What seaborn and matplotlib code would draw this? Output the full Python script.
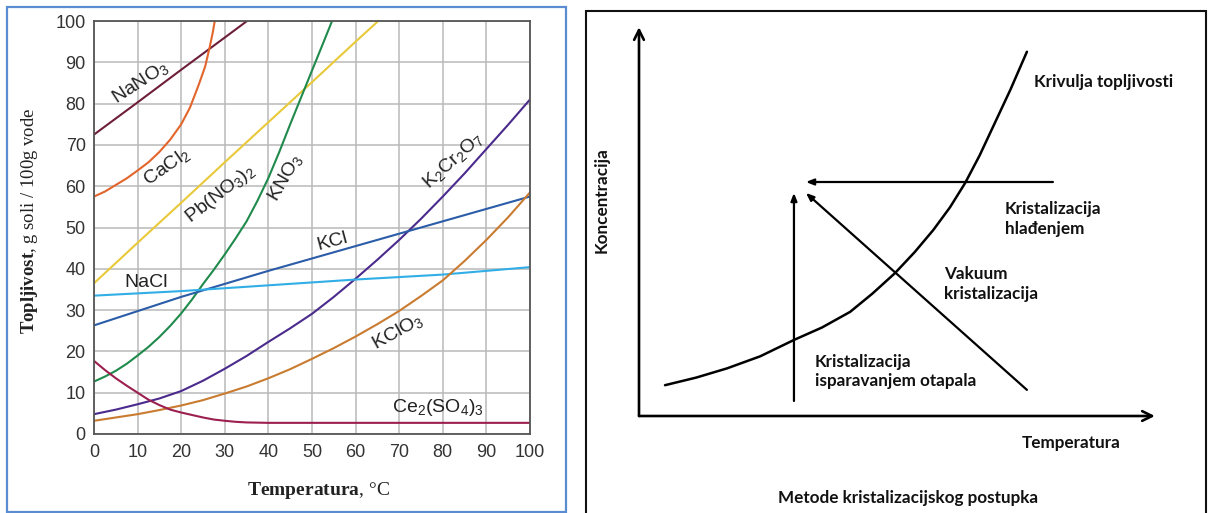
import numpy as np
import pandas as pd
import matplotlib
matplotlib.use("Agg")
import matplotlib.pyplot as plt
import seaborn as sns
from matplotlib.patches import Rectangle

# ---------------- data: solubility curves (g salt / 100 g water) ----------------
nano3_T = [0, 10, 20, 30, 35.1]
nano3_S = [72.5, 80.3, 88.2, 96.0, 100]
cacl2_T = [0, 2.5, 5, 7.5, 10, 12.5, 15, 17.5, 20, 22, 24, 25.5, 26.5, 27.2, 27.7]
cacl2_S = [57.5, 58.7, 60.3, 61.9, 63.8, 65.8, 68.3, 71.3, 75.0, 79.0, 84.5, 89.0, 93.5, 97.0, 100]
pbno3_T = [0, 10, 20, 30, 40, 50, 60, 65.2]
pbno3_S = [36.5, 46.3, 56.0, 65.8, 75.5, 85.2, 95.0, 100]
kno3_T = [0, 2.5, 5, 7.5, 10, 12.5, 15, 17.5, 20, 22.5, 25, 27.5, 30, 32.5, 35, 37.5,
          40, 42.5, 45, 47.5, 50, 52.5, 54.6]
kno3_S = [12.7, 13.9, 15.3, 17.0, 19.0, 21.1, 23.5, 26.2, 29.2, 32.6, 36.3, 39.8, 43.5, 47.4,
          51.5, 56.5, 62.0, 68.3, 75.0, 81.5, 88.0, 94.5, 100]
k2cr2o7_T = [0, 5, 10, 15, 20, 25, 30, 35, 40, 45, 50, 55, 60, 65, 70, 75, 80, 85, 90, 95, 100]
k2cr2o7_S = [4.8, 5.9, 7.2, 8.6, 10.4, 12.9, 15.8, 18.9, 22.3, 25.6, 29.1, 33.2, 37.6, 42.2,
             47.0, 52.1, 57.5, 63.1, 69.0, 74.9, 81.0]
kcl_T = [0, 20, 40, 60, 80, 100]
kcl_S = [26.3, 33.2, 39.5, 45.5, 51.5, 57.5]
nacl_T = [0, 20, 40, 60, 80, 100]
nacl_S = [33.5, 34.6, 36.0, 37.4, 38.6, 40.4]
kclo3_T = [0, 5, 10, 15, 20, 25, 30, 35, 40, 45, 50, 55, 60, 65, 70, 75, 80, 85, 90, 95, 100]
kclo3_S = [3.2, 4.0, 4.8, 5.8, 6.9, 8.2, 9.8, 11.5, 13.5, 15.7, 18.2, 20.8, 23.6, 26.6, 29.8,
           33.4, 37.2, 41.9, 47.0, 52.5, 58.5]
ce_T = [0, 2.5, 5, 7.5, 10, 12.5, 15, 17.5, 20, 22.5, 25, 27.5, 30, 32.5, 35, 40, 100]
ce_S = [17.7, 15.5, 13.5, 11.7, 10.0, 8.3, 7.0, 5.9, 5.2, 4.6, 4.0, 3.5, 3.2, 2.95, 2.8, 2.7, 2.7]

salts = ["NaNO3", "CaCl2", "Pb(NO3)2", "KNO3", "K2Cr2O7", "KCl", "NaCl", "KClO3", "Ce2(SO4)3"]
salt_T = [nano3_T, cacl2_T, pbno3_T, kno3_T, k2cr2o7_T, kcl_T, nacl_T, kclo3_T, ce_T]
salt_S = [nano3_S, cacl2_S, pbno3_S, kno3_S, k2cr2o7_S, kcl_S, nacl_S, kclo3_S, ce_S]
salt_colors = ["#6e1e3a", "#e2652c", "#e8c93a", "#1f8a4c", "#4a2a8c",
               "#2b5ca8", "#32aee6", "#c97b30", "#9c1f4f"]
salt_labels = ["NaNO$_3$", "CaCl$_2$", "Pb(NO$_3$)$_2$", "KNO$_3$", "K$_2$Cr$_2$O$_7$",
               "KCl", "NaCl", "KClO$_3$", "Ce$_2$(SO$_4$)$_3$"]
label_T = [10.6, 16.7, 28.9, 43.8, 82.3, 54.6, 11.9, 69.7, 78.9]
label_S = [85.2, 64.6, 58.1, 62.0, 66.3, 46.5, 36.8, 24.7, 6.3]
label_rot = [33, 35, 38, 60, 42, 15, 0, 29, 0]

x_ticks = list(range(0, 101, 10))
y_ticks = list(range(0, 101, 10))

# ---------------- data: schematic (arbitrary units 0-100) ----------------
curve_T = [5.0, 11.0, 16.9, 23.3, 29.8, 35.2, 40.6, 44.9, 49.2, 53.0, 56.6, 59.8, 62.7,
           65.5, 68.1, 71.4, 74.6]
curve_C = [7.9, 9.85, 12.2, 15.3, 19.5, 22.7, 26.7, 31.4, 36.6, 42.0, 47.7, 53.5, 59.7,
           66.8, 74.2, 83.6, 93.4]
cool_arrow = [(79.6, 60.0), (32.1, 60.0)]
evap_arrow = [(29.8, 3.85), (29.8, 57.2)]
vac_arrow = [(74.6, 6.7), (32.1, 57.2)]

# ---------------- style ----------------
sns.set_style("white")
plt.rcParams["font.family"] = ["Liberation Sans", "DejaVu Sans"]
plt.rcParams["mathtext.fontset"] = "custom"
plt.rcParams["mathtext.rm"] = "Liberation Sans"
plt.rcParams["mathtext.it"] = "Liberation Sans:italic"
plt.rcParams["mathtext.bf"] = "Liberation Serif:bold"

W, H = 1210, 513
fig = plt.figure(figsize=(W / 100, H / 100), dpi=100)

def fx(px):
    return px / W

def fy(py):
    return (H - py) / H

# panel borders
fig.add_artist(Rectangle((fx(7), fy(512)), fx(566) - fx(7), fy(7) - fy(512),
                         transform=fig.transFigure, fill=False, ec="#5b8bd0", lw=1.6))
fig.add_artist(Rectangle((fx(586), -0.05), fx(1206) - fx(586), fy(11) + 0.05,
                         transform=fig.transFigure, fill=False, ec="#111111", lw=1.5))

# ---------------- left: solubility chart ----------------
ax = fig.add_axes([fx(94), fy(434), fx(530) - fx(94), fy(21) - fy(434)])
rows = []
for name, T, S in zip(salts, salt_T, salt_S):
    for t, s in zip(T, S):
        rows.append({"salt": name, "T": t, "S": s})
df = pd.DataFrame(rows)
sns.lineplot(data=df, x="T", y="S", hue="salt", hue_order=salts,
             palette=dict(zip(salts, salt_colors)), estimator=None, sort=False,
             legend=False, lw=1.5, ax=ax)
ax.set_xlim(0, 100)
ax.set_ylim(0, 100)
ax.set_xticks(x_ticks)
ax.set_yticks(y_ticks)
ax.grid(True, color="#b9b9b9", lw=1.1)
ax.set_axisbelow(True)
for sp in ax.spines.values():
    sp.set_color("#555555")
    sp.set_linewidth(1.3)
ax.tick_params(length=0, labelsize=13, colors="#333333")
ax.tick_params(axis="y", pad=6)
ax.tick_params(axis="x", pad=7)
ax.set_xlabel(r"$\mathbf{Temperatura}$, °C", family="Liberation Serif", fontsize=14,
              color="#222222", va="center")
ax.xaxis.set_label_coords(0.514, -0.136)
ax.set_ylabel(r"$\mathbf{Topljivost}$, g soli / 100g vode", family="Liberation Serif",
              fontsize=13.5, color="#222222", va="center")
ax.yaxis.set_label_coords(-0.147, 0.516)
for lab, t, s, r in zip(salt_labels, label_T, label_S, label_rot):
    ax.text(t, s, lab, rotation=r, rotation_mode="anchor", ha="center", va="center",
            fontsize=14, color="#222222")

# ---------------- right: schematic ----------------
ax2 = fig.add_axes([fx(639), fy(416), fx(1159) - fx(639), fy(26) - fy(416)])
ax2.set_xlim(0, 100)
ax2.set_ylim(0, 100)
ax2.axis("off")
sns.lineplot(x=curve_T, y=curve_C, sort=False, estimator=None, color="black", lw=1.8, ax=ax2)

axis_style = dict(arrowstyle="->,head_length=0.7,head_width=0.35", lw=1.9, color="black",
                  shrinkA=0, shrinkB=0)
ax2.annotate("", xy=(0, 99.7), xytext=(0, 0), arrowprops=axis_style, annotation_clip=False)
ax2.annotate("", xy=(99.2, 0), xytext=(0, 0), arrowprops=axis_style, annotation_clip=False)
small_style = dict(arrowstyle="-|>,head_length=0.45,head_width=0.18", lw=1.6, color="black",
                   shrinkA=0, shrinkB=0)
for arr in (cool_arrow, evap_arrow, vac_arrow):
    ax2.annotate("", xy=arr[1], xytext=arr[0], arrowprops=small_style, annotation_clip=False)

tfont = dict(family=["Lato", "DejaVu Sans"], fontsize=12.3, fontweight="bold", color="#111111",
             linespacing=1.3)
ax2.text(76.0, 85.6, "Krivulja topljivosti", ha="left", va="center", **tfont)
ax2.text(70.4, 50.5, "Kristalizacija\nhlađenjem", ha="left", va="center", **tfont)
ax2.text(58.7, 33.8, "Vakuum\nkristalizacija", ha="left", va="center", **tfont)
ax2.text(33.8, 11.4, "Kristalizacija\nisparavanjem otapala", ha="left", va="center", **tfont)
ax2.text(73.7, -6.9, "Temperatura", ha="left", va="center", clip_on=False, **tfont)
ax2.text(-7.1, 55.4, "Koncentracija", ha="center", va="center", rotation=90, clip_on=False, **tfont)
ax2.text(51.7, -21.0, "Metode kristalizacijskog postupka", ha="center", va="center",
         clip_on=False, **tfont)

fig.savefig("out.png", dpi=100)
